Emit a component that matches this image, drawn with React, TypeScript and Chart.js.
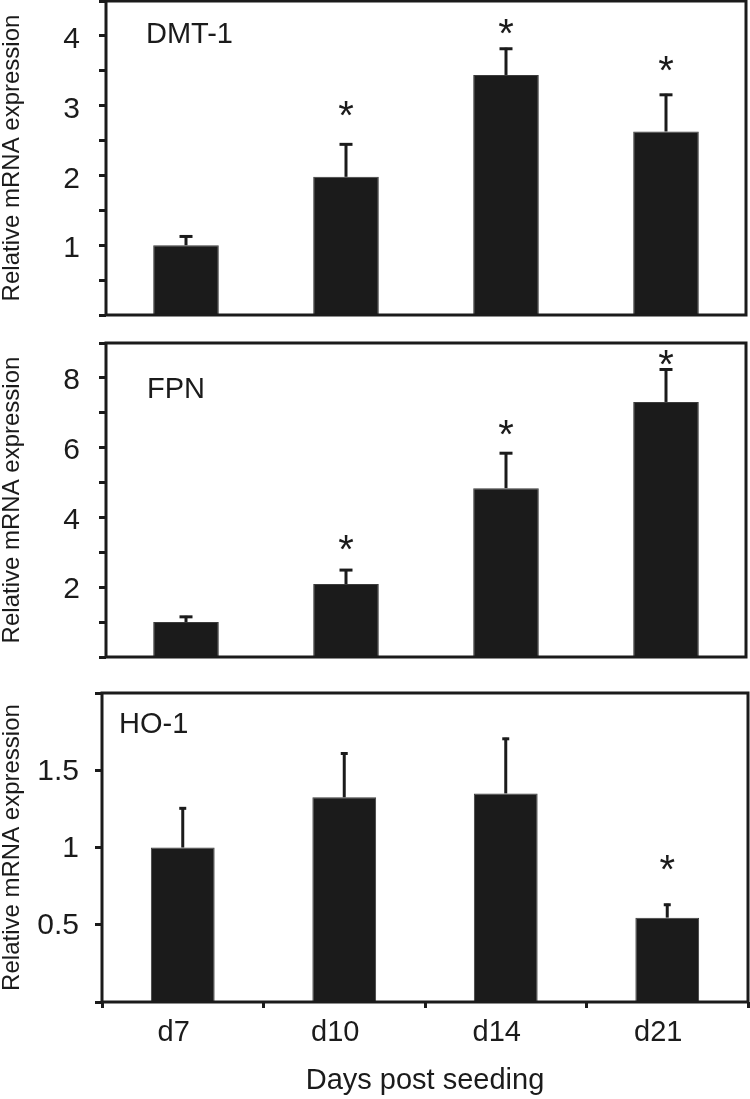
import { useEffect, useRef } from 'react';
import { Chart, registerables } from 'chart.js';

Chart.register(...registerables);

// ---- data ----
const days = ['d7', 'd10', 'd14', 'd21'];
const panelNames = ['DMT-1', 'FPN', 'HO-1'];
const yTitle = 'Relative mRNA expression';
const xTitle = 'Days post seeding';

const dmtMean = [1.0, 1.98, 3.44, 2.63];
const dmtSE = [0.14, 0.48, 0.39, 0.54];
const dmtStarY = [null, 2.96, 4.14, 3.6];
const dmtTickLabels = ['1', '2', '3', '4'];

const fpnMean = [1.0, 2.09, 4.84, 7.31];
const fpnSE = [0.18, 0.43, 1.03, 0.96];
const fpnStarY = [null, 3.29, 6.57, 8.58];
const fpnTickLabels = ['2', '4', '6', '8'];

const hoMean = [1.0, 1.325, 1.35, 0.546];
const hoSE = [0.26, 0.29, 0.36, 0.09];
const hoStarY = [null, null, null, 0.9];
const hoTickLabels = ['0.5', '1', '1.5'];

const INK = '#1b1b1b';
const FONT = '"Liberation Sans", Arial, Helvetica, sans-serif';

type PanelCfg = {
  name: string;
  mean: number[];
  se: number[];
  starY: (number | null)[];
  tickLabels: string[];
  max: number;
  step: number;
  canvasTop: number;
  canvasH: number;
  areaTop: number;
  areaBottom: number;
  left: number;
  right: number;
  barPct: number;
  cap: number;
  labelDx: number;
  labelDy: number;
  tickPad: number;
  tickLabelOffset: number;
  showX: boolean;
};

const panels: PanelCfg[] = [
  {
    name: panelNames[0], mean: dmtMean, se: dmtSE, starY: dmtStarY, tickLabels: dmtTickLabels,
    max: 4.5, step: 0.5, canvasTop: 0, canvasH: 330, areaTop: 1, areaBottom: 315,
    left: 106, right: 746, barPct: 0.41, cap: 13, labelDx: 40, labelDy: 42, tickPad: 19,
    tickLabelOffset: 4, showX: false,
  },
  {
    name: panelNames[1], mean: fpnMean, se: fpnSE, starY: fpnStarY, tickLabels: fpnTickLabels,
    max: 9, step: 1, canvasTop: 330, canvasH: 340, areaTop: 13, areaBottom: 327,
    left: 106, right: 746, barPct: 0.41, cap: 13, labelDx: 41, labelDy: 55, tickPad: 19,
    tickLabelOffset: 3, showX: false,
  },
  {
    name: panelNames[2], mean: hoMean, se: hoSE, starY: hoStarY, tickLabels: hoTickLabels,
    max: 2, step: 0.5, canvasTop: 670, canvasH: 429, areaTop: 23, areaBottom: 332,
    left: 102, right: 748, barPct: 0.395, cap: 7, labelDx: 17, labelDy: 40, tickPad: 16,
    tickLabelOffset: 1, showX: true,
  },
];

function makeAnnotPlugin(p: PanelCfg) {
  return {
    id: 'annot',
    afterDatasetsDraw(chart: any) {
      const { ctx, chartArea } = chart;
      const x = chart.scales.x;
      const y = chart.scales.y;
      ctx.save();
      ctx.strokeStyle = INK;
      ctx.fillStyle = INK;
      ctx.lineCap = 'butt';
      // error bars (upper only)
      p.mean.forEach((m, i) => {
        const px = x.getPixelForValue(i);
        const y0 = y.getPixelForValue(m);
        const y1 = y.getPixelForValue(m + p.se[i]);
        ctx.lineWidth = 3;
        ctx.beginPath();
        ctx.moveTo(px, y0);
        ctx.lineTo(px, y1);
        ctx.stroke();
        ctx.beginPath();
        ctx.moveTo(px - p.cap / 2, y1 + 1);
        ctx.lineTo(px + p.cap / 2, y1 + 1);
        ctx.stroke();
      });
      // frame
      ctx.lineWidth = 3;
      ctx.strokeRect(chartArea.left, chartArea.top, chartArea.right - chartArea.left, chartArea.bottom - chartArea.top);
      // significance asterisks
      ctx.font = `40px ${FONT}`;
      ctx.textAlign = 'center';
      ctx.textBaseline = 'alphabetic';
      p.starY.forEach((s, i) => {
        if (s === null) return;
        const px = x.getPixelForValue(i);
        const py = y.getPixelForValue(s);
        const m = ctx.measureText('*');
        const asc = m.actualBoundingBoxAscent;
        const desc = m.actualBoundingBoxDescent;
        ctx.fillText('*', px, py + (asc - desc) / 2);
      });
      // panel label
      ctx.font = `29px ${FONT}`;
      ctx.textAlign = 'left';
      ctx.textBaseline = 'alphabetic';
      ctx.fillText(p.name, chartArea.left + p.labelDx, chartArea.top + p.labelDy);
      ctx.restore();
    },
  };
}

function buildConfig(p: PanelCfg): any {
  return {
    type: 'bar',
    data: {
      labels: days,
      datasets: [
        {
          data: p.mean,
          backgroundColor: INK,
          borderColor: '#3c3c3c',
          borderWidth: 1,
          barPercentage: p.barPct,
          categoryPercentage: 1,
        },
      ],
    },
    options: {
      responsive: false,
      animation: false,
      devicePixelRatio: 1,
      layout: { padding: { top: p.areaTop, right: 750 - p.right, left: 0, bottom: 0 } },
      plugins: { legend: { display: false }, tooltip: { enabled: false }, title: { display: false } },
      scales: {
        x: {
          type: 'category',
          display: true,
          offset: true,
          border: { display: false },
          grid: {
            display: p.showX,
            offset: true,
            drawOnChartArea: false,
            drawTicks: true,
            tickLength: 6,
            tickWidth: 3,
            tickColor: INK,
          },
          ticks: {
            display: p.showX,
            font: { family: FONT, size: 29 },
            color: INK,
            padding: 8,
            labelOffset: -9,
            maxRotation: 0,
            autoSkip: false,
          },
          title: {
            display: p.showX,
            text: xTitle,
            font: { family: FONT, size: 29, lineHeight: 1.2 },
            color: INK,
            padding: { top: 0, bottom: 1 },
          },
          afterFit: (s: any) => {
            s.height = p.canvasH - p.areaBottom;
            s.paddingLeft = 0;
            s.paddingRight = 0;
          },
        },
        y: {
          type: 'linear',
          min: 0,
          max: p.max,
          border: { display: false },
          grid: {
            display: true,
            drawOnChartArea: false,
            drawTicks: true,
            tickLength: 7,
            tickWidth: 3,
            tickColor: INK,
          },
          ticks: {
            stepSize: p.step,
            autoSkip: false,
            font: { family: FONT, size: 30 },
            color: INK,
            padding: p.tickPad,
            labelOffset: p.tickLabelOffset,
            callback: (v: number) => {
              const s = String(Math.round(v * 100) / 100);
              return p.tickLabels.includes(s) ? s : '';
            },
          },
          title: {
            display: true,
            text: yTitle,
            font: { family: FONT, size: 24, lineHeight: 1 },
            color: INK,
            padding: { top: 0, bottom: 0 },
          },
          afterFit: (s: any) => {
            s.width = p.left;
            s.paddingTop = 0;
            s.paddingBottom = 0;
          },
        },
      },
    },
    plugins: [makeAnnotPlugin(p)],
  };
}

function Panel({ p }: { p: PanelCfg }) {
  const ref = useRef<HTMLCanvasElement>(null);
  useEffect(() => {
    if (!ref.current) return;
    const chart = new Chart(ref.current, buildConfig(p));
    return () => chart.destroy();
  }, [p]);
  return (
    <canvas
      ref={ref}
      width={750}
      height={p.canvasH}
      style={{ position: 'absolute', left: 0, top: p.canvasTop, width: 750, height: p.canvasH, display: 'block' }}
    />
  );
}

export default function App() {
  return (
    <div style={{ position: 'absolute', left: 0, top: 0, width: 750, height: 1099, background: '#ffffff' }}>
      {panels.map((p) => (
        <Panel key={p.name} p={p} />
      ))}
    </div>
  );
}
